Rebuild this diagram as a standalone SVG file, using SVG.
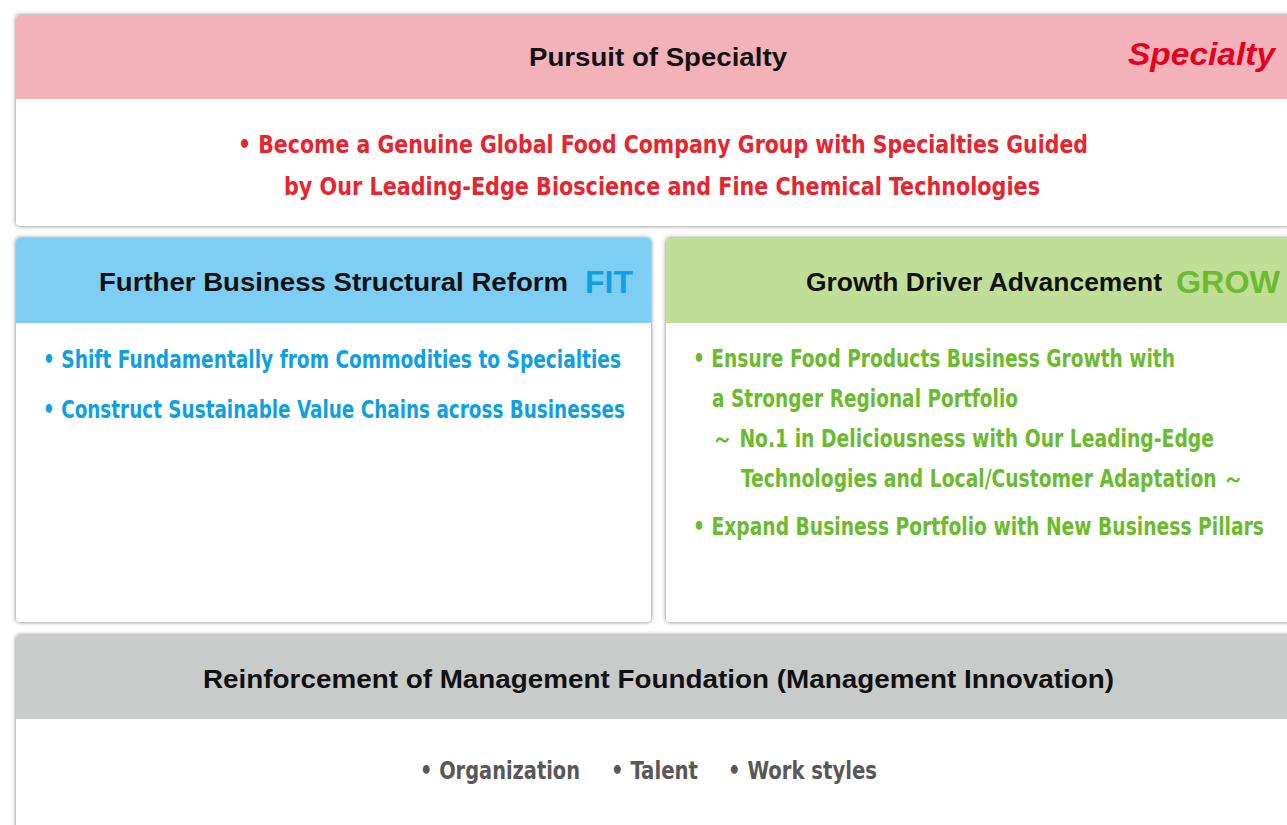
<svg xmlns="http://www.w3.org/2000/svg" width="1287" height="825" viewBox="0 0 1287 825">
<defs>
<filter id="sh" x="-5%" y="-5%" width="110%" height="110%">
<feDropShadow dx="0" dy="0" stdDeviation="2" flood-color="#666" flood-opacity="0.9"/>
</filter>
<clipPath id="clipTop"><rect x="16" y="15" width="1300" height="211" rx="4"/></clipPath>
<clipPath id="clipL"><rect x="16" y="238" width="635" height="384" rx="4"/></clipPath>
<clipPath id="clipR"><rect x="666" y="238" width="650" height="384" rx="4"/></clipPath>
<clipPath id="clipB"><rect x="16" y="635" width="1300" height="220" rx="4"/></clipPath>
</defs>
<style>
.title{font-family:"Liberation Sans",Arial,sans-serif;font-weight:bold;font-size:25px;fill:#111}
.body{font-family:"Liberation Sans Narrow","DejaVu Sans Condensed","Liberation Sans",sans-serif;font-weight:bold;font-size:25px}
.tag{font-family:"Liberation Sans",Arial,sans-serif;font-size:32px}
.red{fill:#E6252F}
.blue{fill:#0EA0E3}
.green{fill:#6BBB2E}
.grey{fill:#595757}
</style>
<rect width="1287" height="825" fill="#fff"/>

<g id="specialty">
<rect x="16" y="15" width="1300" height="211" rx="4" fill="#fff" filter="url(#sh)"/>
<g clip-path="url(#clipTop)">
<rect x="16" y="15" width="1300" height="84" fill="#F3B2B9"/>
</g>
<text class="title" x="658" y="66" text-anchor="middle" textLength="258" lengthAdjust="spacingAndGlyphs">Pursuit of Specialty</text>
<text class="tag" x="1128" y="65" font-weight="bold" font-style="italic" fill="#E60020" textLength="147" lengthAdjust="spacingAndGlyphs">Specialty</text>
<text class="body red" x="238" y="153" textLength="850" lengthAdjust="spacingAndGlyphs">• Become a Genuine Global Food Company Group with Specialties Guided</text>
<text class="body red" x="284" y="195" textLength="756" lengthAdjust="spacingAndGlyphs">by Our Leading-Edge Bioscience and Fine Chemical Technologies</text>
</g>

<g id="fit">
<rect x="16" y="238" width="635" height="384" rx="4" fill="#fff" filter="url(#sh)"/>
<g clip-path="url(#clipL)">
<rect x="16" y="238" width="635" height="85" fill="#7ECDF2"/>
</g>
<text class="title" x="99" y="291" textLength="469" lengthAdjust="spacingAndGlyphs">Further Business Structural Reform</text>
<text class="tag" x="585" y="293" font-weight="bold" fill="#0EA0E3" textLength="48" lengthAdjust="spacingAndGlyphs">FIT</text>
<text class="body blue" x="43" y="368" textLength="578" lengthAdjust="spacingAndGlyphs">• Shift Fundamentally from Commodities to Specialties</text>
<text class="body blue" x="43" y="418" textLength="582" lengthAdjust="spacingAndGlyphs">• Construct Sustainable Value Chains across Businesses</text>
</g>

<g id="grow">
<rect x="666" y="238" width="650" height="384" rx="4" fill="#fff" filter="url(#sh)"/>
<g clip-path="url(#clipR)">
<rect x="666" y="238" width="650" height="85" fill="#C1DE98"/>
</g>
<text class="title" x="806" y="291" textLength="356" lengthAdjust="spacingAndGlyphs">Growth Driver Advancement</text>
<text class="tag" x="1176" y="293" font-weight="bold" fill="#6BBB2E" textLength="104" lengthAdjust="spacingAndGlyphs">GROW</text>
<text class="body green" x="693" y="367" textLength="482" lengthAdjust="spacingAndGlyphs">• Ensure Food Products Business Growth with</text>
<text class="body green" x="712" y="407" textLength="306" lengthAdjust="spacingAndGlyphs">a Stronger Regional Portfolio</text>
<text class="body green" x="712" y="447" textLength="502" lengthAdjust="spacingAndGlyphs">～ No.1 in Deliciousness with Our Leading-Edge</text>
<text class="body green" x="741" y="487" textLength="503" lengthAdjust="spacingAndGlyphs">Technologies and Local/Customer Adaptation ～</text>
<text class="body green" x="693" y="535" textLength="571" lengthAdjust="spacingAndGlyphs">• Expand Business Portfolio with New Business Pillars</text>
</g>

<g id="foundation">
<rect x="16" y="635" width="1300" height="220" rx="4" fill="#fff" filter="url(#sh)"/>
<g clip-path="url(#clipB)">
<rect x="16" y="635" width="1300" height="84" fill="#C9CACA"/>
</g>
<text class="title" x="203" y="688" textLength="911" lengthAdjust="spacingAndGlyphs">Reinforcement of Management Foundation (Management Innovation)</text>
<text class="body grey" x="420" y="779" textLength="160" lengthAdjust="spacingAndGlyphs">• Organization</text>
<text class="body grey" x="611" y="779" textLength="87" lengthAdjust="spacingAndGlyphs">• Talent</text>
<text class="body grey" x="728" y="779" textLength="149" lengthAdjust="spacingAndGlyphs">• Work styles</text>
</g>

<g id="connectors"></g>
</svg>
